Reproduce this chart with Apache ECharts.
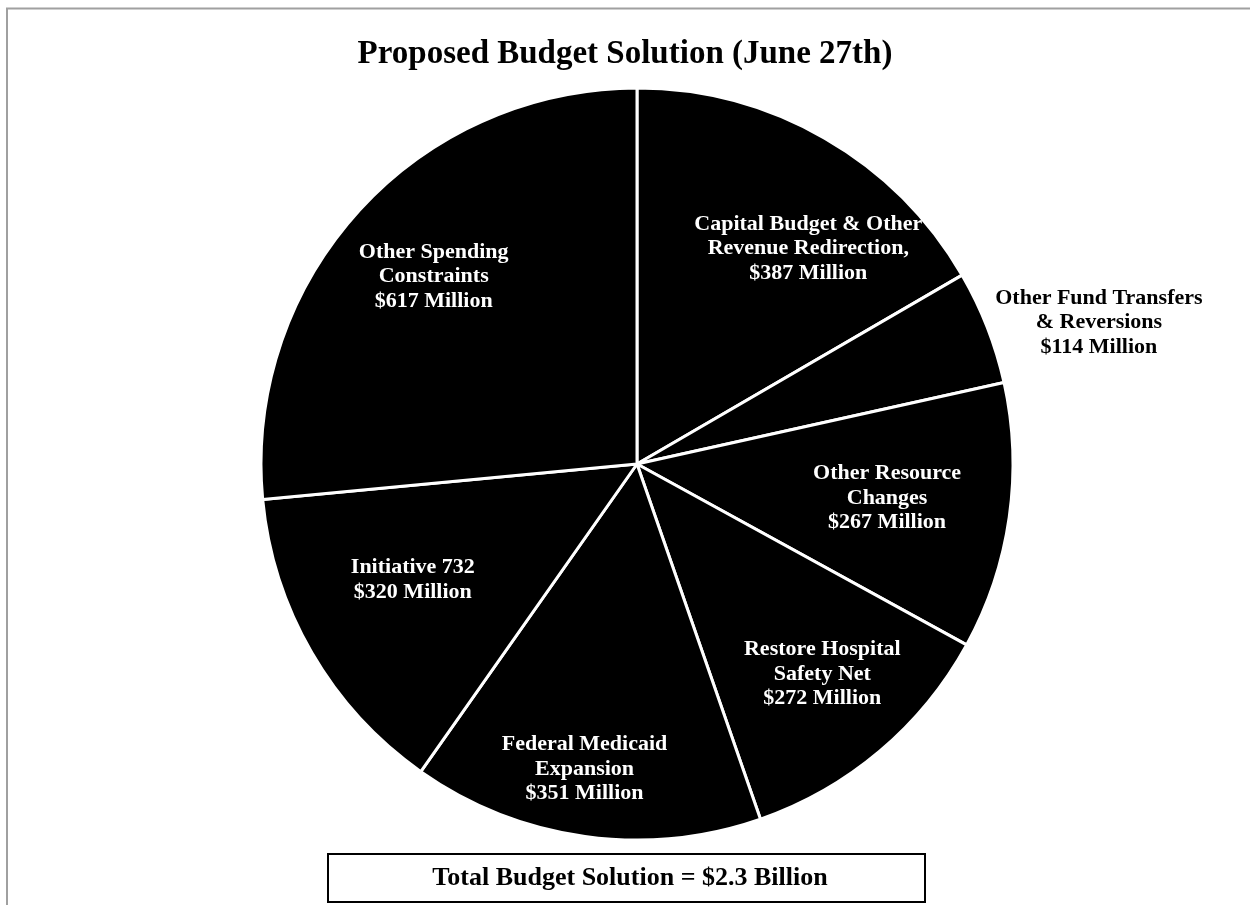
<!DOCTYPE html>
<html>
<head>
<meta charset="utf-8">
<script src="https://cdn.jsdelivr.net/npm/echarts@6/dist/echarts.min.js"></script>
<style>
  html, body { margin: 0; padding: 0; background: #fff; }
  #chart { width: 1250px; height: 905px; }
</style>
</head>
<body>
<div id="chart"></div>
<script>
const categories = [
  'Capital Budget & Other\nRevenue Redirection,',
  'Other Fund Transfers\n& Reversions',
  'Other Resource\nChanges',
  'Restore Hospital\nSafety Net',
  'Federal Medicaid\nExpansion',
  'Initiative 732',
  'Other Spending\nConstraints'
];
const values = [387, 114, 267, 272, 351, 320, 617];
const titleText = 'Proposed Budget Solution (June 27th)';
const totalText = 'Total Budget Solution = $2.3 Billion';

// label nudges (dx, dy) from the default inside position
const labelOffsets = [
  [76, -50], [284, -72], [61, 7], [62, 64], [-26, 116], [-59, 20], [-62, -59]
];
const outsideLabel = [false, true, false, false, false, false, false];

const FONT = '"Liberation Serif", "Times New Roman", serif';

const chart = echarts.init(document.getElementById('chart'), null, { renderer: 'canvas' });

const data = categories.map((c, i) => ({
  name: c,
  value: values[i],
  label: { color: outsideLabel[i] ? '#000' : '#fff' }
}));

chart.setOption({
  backgroundColor: '#fff',
  animation: false,
  title: {
    text: titleText,
    left: 'center',
    top: 33,
    textStyle: { fontFamily: FONT, fontWeight: 'bold', fontSize: 33, color: '#000' }
  },
  graphic: [
    {
      type: 'rect',
      shape: { x: 7, y: 8.5, width: 1300, height: 1000 },
      style: { fill: 'none', stroke: '#a0a0a0', lineWidth: 2 },
      silent: true
    },
    {
      type: 'rect',
      shape: { x: 328, y: 854, width: 597, height: 48 },
      style: { fill: '#fff', stroke: '#000', lineWidth: 2 },
      silent: true
    },
    {
      type: 'text',
      x: 630, y: 878,
      style: {
        text: totalText, fill: '#000', font: 'bold 26px ' + FONT,
        align: 'center', verticalAlign: 'middle'
      },
      silent: true
    }
  ],
  series: [{
    type: 'pie',
    center: [637, 464],
    radius: 376,
    startAngle: 90,
    clockwise: true,
    avoidLabelOverlap: false,
    itemStyle: { color: '#000', borderColor: '#fff', borderWidth: 3 },
    label: {
      show: true,
      position: 'inside',
      formatter: p => p.name + '\n$' + p.value + ' Million',
      fontFamily: FONT,
      fontWeight: 'bold',
      fontSize: 22,
      lineHeight: 24.5,
      align: 'center'
    },
    labelLine: { show: false },
    emphasis: { disabled: true },
    labelLayout: p => ({ dx: labelOffsets[p.dataIndex][0], dy: labelOffsets[p.dataIndex][1] }),
    data: data
  }]
});
</script>
</body>
</html>
